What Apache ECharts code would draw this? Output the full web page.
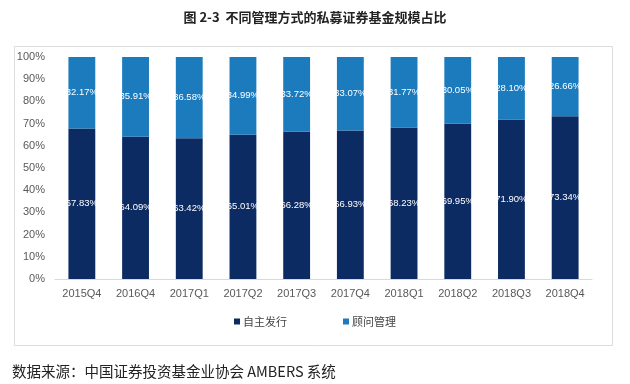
<!DOCTYPE html>
<html><head><meta charset="utf-8">
<script src="https://cdn.jsdelivr.net/npm/echarts@6/dist/echarts.min.js"></script>
<style>html,body{margin:0;padding:0;background:#fff}#c{width:630px;height:384px}</style>
</head><body><div id="c"></div>
<script>
const categories = ['2015Q4','2016Q4','2017Q1','2017Q2','2017Q3','2017Q4','2018Q1','2018Q2','2018Q3','2018Q4'];
const selfIssued = [67.83,64.09,63.42,65.01,66.28,66.93,68.23,69.95,71.90,73.34];
const advisory = [32.17,35.91,36.58,34.99,33.72,33.07,31.77,30.05,28.10,26.66];
const seriesNames = ['自主发行','顾问管理'];
const yTicks = [0,10,20,30,40,50,60,70,80,90,100];

const chart = echarts.init(document.getElementById('c'));
const lbl = {show:true, position:'inside', color:'#fff', fontSize:9.5, fontFamily:'Liberation Sans, Arial', formatter:p=>p.value.toFixed(2)+'%'};
chart.setOption({
  animation:false,
  title:{text:'图 2-3  不同管理方式的私募证券基金规模占比', left:'center', top:6,
    textStyle:{fontSize:13, fontWeight:'bold', color:'#222', fontFamily:'Noto Sans CJK SC'}},
  graphic:[
    {type:'rect', left:12, top:44, shape:{width:598, height:299}, style:{fill:'none', stroke:'#dcdcdc', lineWidth:1}},
    {type:'text', left:12, top:364, style:{text:'数据来源：中国证券投资基金业协会 AMBERS 系统', fontSize:14.5, fill:'#222', fontFamily:'Noto Sans CJK SC'}}
  ],
  grid:{left:55, right:38, top:57, bottom:105, containLabel:false},
  legend:{bottom:52, left:'center', itemWidth:6, itemHeight:6, itemGap:56, icon:'rect',
    textStyle:{fontSize:11, color:'#444', fontFamily:'Noto Sans CJK SC', padding:[0,0,0,-2]}},
  xAxis:{type:'category', data:categories,
    axisLine:{lineStyle:{color:'#d9d9d9'}}, axisTick:{show:false},
    axisLabel:{color:'#595959', fontSize:11, margin:9, fontFamily:'Liberation Sans, Arial'}},
  yAxis:{type:'value', min:0, max:100, interval:10,
    axisLine:{show:false}, axisTick:{show:false}, splitLine:{show:false},
    axisLabel:{color:'#595959', fontSize:11, margin:10, fontFamily:'Liberation Sans, Arial', formatter:v=>v+'%'}},
  series:[
    {name:seriesNames[0], type:'bar', stack:'a', data:selfIssued, barWidth:'50%', itemStyle:{color:'#0d2b63'}, label:lbl},
    {name:seriesNames[1], type:'bar', stack:'a', data:advisory, barWidth:'50%', itemStyle:{color:'#1b7bbd'}, label:lbl}
  ]
});
</script></body></html>
